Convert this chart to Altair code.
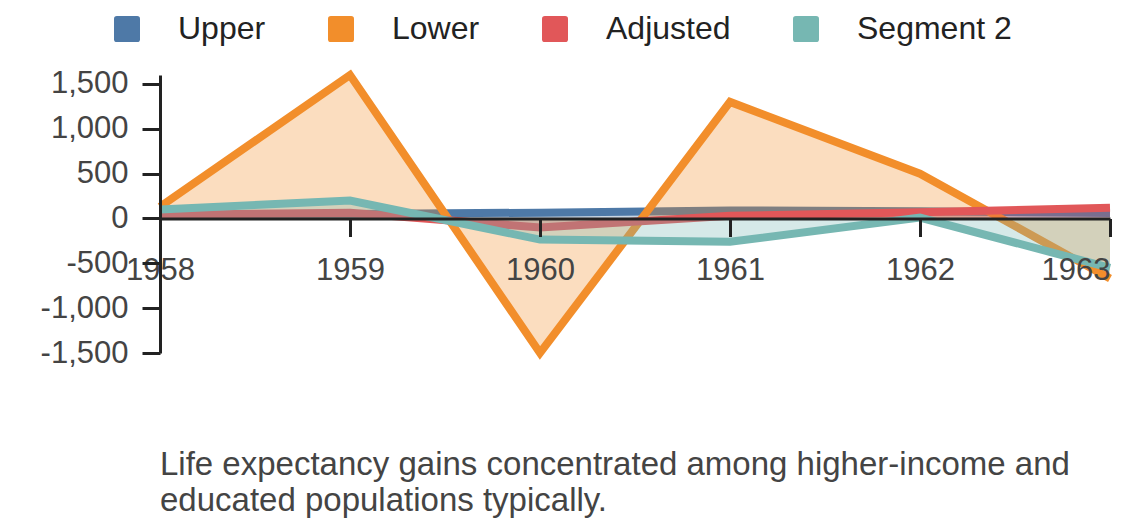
import altair as alt
import pandas as pd

# ---- data ----
years = [1958, 1959, 1960, 1961, 1962, 1963]
series_names = ["Upper", "Lower", "Adjusted", "Segment 2"]
upper = [40, 50, 65, 90, 80, 60]
lower = [130, 1600, -1500, 1300, 500, -670]
adjusted = [40, 65, -100, 30, 70, 120]
segment2 = [100, 200, -235, -260, 10, -550]
colors = ["#4e79a7", "#f28e2b", "#e15759", "#76b7b2"]
y_ticks = [-1500, -1000, -500, 0, 500, 1000, 1500]
caption = [
    "Life expectancy gains concentrated among higher-income and",
    "educated populations typically.",
]

rows = []
for name, vals in zip(series_names, [upper, lower, adjusted, segment2]):
    for yr, v in zip(years, vals):
        rows.append({"year": yr, "series": name, "value": v})
df = pd.DataFrame(rows)

W, H = 950, 278
y_domain = [-1500, 1600]
zero_offset = -(H * (0 - y_domain[0]) / (y_domain[1] - y_domain[0]))

FONT = "Liberation Sans"
AXIS_COLOR = "#222222"
LABEL_COLOR = "#444444"
ROUNDED_SQUARE = (
    "M-0.78,-1H0.78Q1,-1 1,-0.78V0.78Q1,1 0.78,1H-0.78Q-1,1 -1,0.78"
    "V-0.78Q-1,-1 -0.78,-1Z"
)

x_enc = alt.X(
    "year:Q",
    scale=alt.Scale(domain=[years[0], years[-1]], nice=False, zero=False),
    axis=alt.Axis(
        values=years, format="d", title=None, offset=zero_offset, grid=False,
        domainColor=AXIS_COLOR, domainWidth=3, tickColor=AXIS_COLOR, tickWidth=3,
        tickSize=18, labelFont=FONT, labelFontSize=31, labelColor=LABEL_COLOR,
        labelPadding=19, zindex=1,
        labelAlign={"expr": "datum.value == 1963 ? 'right' : 'center'"},
    ),
)
y_enc = alt.Y(
    "value:Q",
    stack=None,
    scale=alt.Scale(domain=y_domain, nice=False, zero=False),
    axis=alt.Axis(
        values=y_ticks, format=",.0f", title=None, grid=False,
        labelExpr="replace(datum.label, '\u2212', '-')",
        domainColor=AXIS_COLOR, domainWidth=3, tickColor=AXIS_COLOR, tickWidth=3,
        tickSize=18, labelFont=FONT, labelFontSize=31, labelColor=LABEL_COLOR,
        labelPadding=14, zindex=1,
    ),
)
color_enc = alt.Color(
    "series:N",
    scale=alt.Scale(domain=series_names, range=colors),
    legend=alt.Legend(
        title=None, orient="none", legendX=-49, legendY=-62, direction="horizontal",
        columns=4, symbolType=ROUNDED_SQUARE, symbolSize=676, symbolStrokeWidth=0,
        symbolOpacity=1, labelFont=FONT, labelFontSize=32, labelColor="#222222",
        labelOffset=35, columnPadding=59, padding=0, labelLimit=400,
    ),
)

layers = []
for name in series_names:
    base = alt.Chart(df).transform_filter(alt.datum.series == name).encode(
        x=x_enc, y=y_enc, color=color_enc
    )
    layers.append(base.mark_area(fillOpacity=0.3).encode(y2=alt.datum(0)))
    layers.append(base.mark_line(strokeWidth=8))

chart = (
    alt.layer(*layers)
    .properties(
        width=W,
        height=H,
        autosize=alt.AutoSizeParams(type="none"),
        padding={"left": 152, "top": 67, "right": 22, "bottom": 167},
        title=alt.TitleParams(
            text=caption, orient="bottom", anchor="start", frame="group",
            fontSize=33, font=FONT, color=LABEL_COLOR, fontWeight="normal",
            lineHeight=36, offset=80, baseline="top",
        ),
        background="white",
    )
    .configure_view(stroke=None)
)

chart.save("out.html", embed_options={"renderer": "svg", "actions": False})
